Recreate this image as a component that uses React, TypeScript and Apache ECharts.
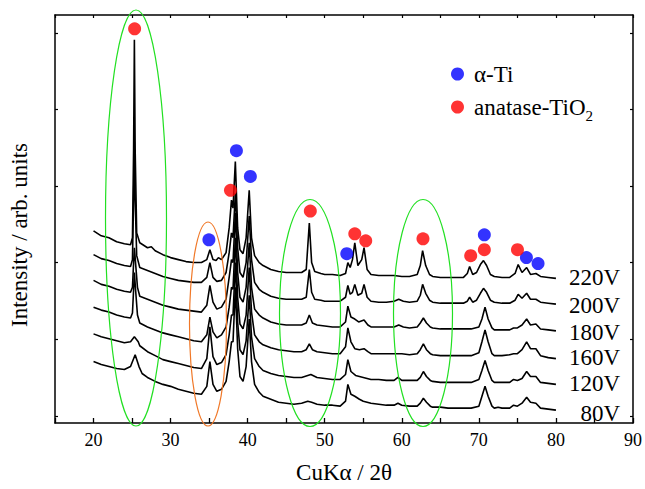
import React, { useEffect, useRef } from "react";
import * as echarts from "echarts";

// 2θ (deg) vs intensity (arb. units)
const s220: number[][] = [[20,267],[21,262],[22,260],[23,256],[24,254],[24.8,253],[25.05,260],[25.2,350],[25.3,460],[25.4,350],[25.6,265],[26,255],[27,250],[27.5,251],[28,247],[29,243],[30,240],[31,238],[32,236],[33,235],[34,235],[34.7,238],[35.1,248],[35.5,238],[35.9,237],[36.2,240],[36.6,238],[37.2,245],[37.6,270],[37.9,298],[38.1,290],[38.4,337],[38.7,270],[39.0,248],[39.4,244],[39.8,260],[40.2,308],[40.5,260],[40.9,242],[41.5,235],[42,232],[43,228],[44,226],[45,225],[46,225],[47,225],[47.6,228],[48.0,275],[48.3,235],[48.7,226],[49.5,224],[50,223],[51,223],[52,222],[52.7,224],[53.0,235],[53.3,230],[53.6,238],[53.9,255],[54.3,232],[54.8,238],[55.1,250],[55.5,228],[56,223],[57,222],[58,222],[59,222],[60,221],[61,221],[62,223],[62.4,232],[62.7,247],[63.1,232],[63.6,223],[64,221],[65,220],[66,220],[67,220],[68,220],[68.5,224],[68.8,231],[69.2,223],[69.7,225],[70.2,233],[70.6,237],[71.0,232],[71.5,223],[72,221],[73,220],[74,220],[74.7,224],[75.1,233],[75.6,225],[76.2,230],[76.7,223],[77.4,224],[78,221],[79,220],[80,219]];
const s200: number[][] = [[20,243],[21,239],[22,237],[23,234],[24,232],[24.8,231],[25.05,238],[25.2,300],[25.3,357],[25.4,300],[25.6,242],[26,230],[27,227],[28,224],[29,221],[30,219],[31,217],[32,216],[33,215],[34,215],[34.7,220],[35.1,235],[35.5,220],[36,216],[36.6,217],[37.2,225],[37.6,245],[37.9,265],[38.1,260],[38.4,305],[38.7,250],[39.0,225],[39.4,220],[39.8,235],[40.2,282],[40.5,238],[40.9,215],[41.5,208],[42,205],[43,201],[44,199],[45,198],[46,198],[47,198],[47.6,200],[48.0,228],[48.3,205],[48.7,198],[49.5,197],[50,196],[51,196],[52,196],[52.7,200],[53.0,212],[53.3,203],[53.6,205],[53.9,213],[54.3,202],[54.8,204],[55.1,213],[55.5,200],[56,196],[57,195],[58,195],[59,196],[59.6,198],[60.2,196],[61,195],[62,196],[62.4,202],[62.7,213],[63.1,204],[63.6,197],[64,195],[65,194],[66,194],[67,194],[68,194],[68.5,196],[68.8,200],[69.2,195],[69.7,197],[70.2,204],[70.6,209],[71.0,205],[71.5,197],[72,195],[73,194],[74,194],[74.7,197],[75.1,203],[75.6,199],[76.2,204],[76.7,198],[77.4,198],[78,195],[79,194],[80,193]];
const s180: number[][] = [[20,217],[21,213],[22,211],[23,208],[24,206],[24.8,205],[25.05,210],[25.2,235],[25.3,250],[25.45,235],[25.7,210],[26,201],[27,198],[28,195],[29,192],[30,190],[31,188],[32,187],[33,186],[34,185],[34.7,192],[35.1,212],[35.5,195],[36,188],[36.6,190],[37.2,198],[37.6,220],[37.9,238],[38.1,235],[38.4,285],[38.7,225],[39.0,200],[39.4,195],[39.8,210],[40.2,255],[40.5,210],[40.9,188],[41.5,182],[42,179],[43,175],[44,173],[45,172],[46,172],[47,172],[47.6,174],[48.0,182],[48.4,174],[49,172],[50,171],[51,170],[52,170],[52.7,175],[53.0,191],[53.4,180],[53.9,178],[54.4,175],[55.1,177],[55.6,172],[56,170],[57,170],[58,170],[59,170],[59.6,172],[60.2,170],[61,169],[62,170],[62.4,174],[62.8,179],[63.2,174],[63.7,170],[64,169],[65,168],[66,168],[67,168],[68,168],[69,168],[70,170],[70.4,178],[70.8,190],[71.2,178],[71.7,169],[72,167],[73,167],[74,167],[74.5,169],[75,169],[75.6,172],[76.2,178],[76.7,172],[77.4,173],[78,168],[79,167],[80,166]];
const s160: number[][] = [[20,190],[21,187],[22,185],[23,182],[24,180],[24.8,179],[25.05,184],[25.2,208],[25.3,225],[25.45,208],[25.7,182],[26,174],[27,170],[28,167],[29,164],[30,162],[31,160],[32,158],[33,156],[34,155],[34.7,162],[35.1,180],[35.5,165],[36,159],[36.6,162],[37.2,170],[37.6,190],[37.9,210],[38.1,208],[38.4,260],[38.7,200],[39.0,173],[39.4,168],[39.8,182],[40.2,230],[40.5,185],[40.9,162],[41.5,155],[42,152],[43,149],[44,147],[45,146],[46,145],[47,145],[47.6,147],[48.0,153],[48.4,147],[49,145],[50,144],[51,143],[52,143],[52.7,150],[53.0,169],[53.4,155],[53.9,148],[54.5,147],[55.1,148],[55.6,145],[56,143],[57,143],[58,143],[59,143],[60,143],[61,142],[62,143],[62.4,147],[62.8,153],[63.2,147],[63.7,143],[64,142],[65,141],[66,141],[67,141],[68,141],[69,141],[70,144],[70.4,155],[70.8,167],[71.2,155],[71.7,143],[72,141],[73,141],[74,142],[74.5,143],[75,143],[75.6,147],[76.2,155],[76.7,148],[77.4,148],[78,141],[79,139],[80,138]];
const s120: number[][] = [[20,163],[21,160],[22,158],[23,156],[24,154],[24.8,155],[25.3,160],[25.8,155],[26,151],[27,145],[28,141],[29,137],[30,135],[31,133],[32,131],[33,129],[34,128],[34.7,138],[35.1,170],[35.5,140],[36,132],[36.6,134],[37.2,142],[37.6,162],[37.9,182],[38.1,182],[38.4,235],[38.7,175],[39.0,147],[39.4,142],[39.8,156],[40.2,202],[40.5,160],[40.9,138],[41.5,130],[42,126],[43,123],[44,121],[45,120],[46,119],[47,119],[47.8,121],[48.2,122],[49,119],[50,118],[51,117],[52,117],[52.7,122],[53.0,137],[53.4,125],[54,121],[55,119],[56,117],[57,117],[58,116],[59,116],[59.5,119],[60,116],[61,116],[62,116],[62.4,119],[62.8,125],[63.2,120],[63.7,116],[64,115],[65,114],[66,114],[67,114],[68,114],[69,114],[70,117],[70.4,126],[70.8,136],[71.2,126],[71.7,116],[72,114],[73,114],[74,114],[74.5,117],[75,116],[75.6,118],[76.2,125],[76.7,120],[77.4,120],[78,114],[79,113],[80,112]];
const s80: number[][] = [[20,135],[21,132],[22,130],[23,128],[24,127],[24.8,130],[25.4,142],[25.9,130],[26.3,123],[27,119],[28,115],[29,112],[30,110],[31,107],[32,105],[33,103],[34,102],[34.7,110],[35.1,135],[35.5,112],[36,105],[36.6,107],[37.2,115],[37.6,135],[37.9,155],[38.1,155],[38.4,210],[38.7,148],[39.0,120],[39.4,115],[39.8,130],[40.2,178],[40.5,135],[40.9,112],[41.5,104],[42,100],[43,97],[44,94],[45,93],[46,92],[47,93],[47.8,95],[48.3,94],[49,92],[50,91],[51,91],[52,90],[52.7,95],[53.0,112],[53.4,102],[53.9,100],[54.5,97],[55,95],[56,93],[57,92],[58,91],[59,91],[59.5,93],[60,91],[61,90],[62,90],[62.4,93],[62.8,98],[63.2,94],[63.7,90],[64,89],[65,89],[66,88],[67,88],[68,88],[69,88],[70,90],[70.4,100],[70.8,110],[71.2,100],[71.7,90],[72,88],[72.5,89],[73,88],[74,88],[74.5,91],[75,90],[75.6,93],[76.2,99],[76.7,94],[77.4,93],[78,88],[79,87],[80,86]];

const seriesNames = ["220V", "200V", "180V", "160V", "120V", "80V"];
const seriesData = [s220, s200, s180, s160, s120, s80];

// Phase markers [2θ, intensity]
const alphaTi: number[][] = [[34.97,258],[38.54,348],[40.35,322],[52.86,244],[70.71,263],[76.17,240],[77.68,234]];
const anatase: number[][] = [[25.33,471],[37.77,308],[48.13,287],[53.9,264],[55.32,257],[62.75,259],[68.94,242],[70.71,248],[75.01,248]];

const xTickLabels = [20, 30, 40, 50, 60, 70, 80, 90];
const yTicks = [80, 157.5, 235, 312, 389.5, 467];

const FONT = "Liberation Serif, Times New Roman, serif";

export default function App() {
  const ref = useRef<HTMLDivElement>(null);
  useEffect(() => {
    document.body.style.margin = "0";
    if (!ref.current) return;
    const chart = echarts.init(ref.current, null, { renderer: "svg" });
    const lineSeries = seriesData.map((d, i) => ({
      name: seriesNames[i],
      type: "line",
      data: d,
      showSymbol: false,
      symbol: "none",
      lineStyle: { color: "#000", width: 1.6 },
      z: 2,
    }));
    const axisLine = { show: true, lineStyle: { color: "#000", width: 1.5 } };
    chart.setOption({
      animation: false,
      grid: { left: 55, right: 10, top: 15, bottom: 62 },
      legend: {
        data: ["α-Ti", "anatase-TiO2"],
        orient: "vertical",
        left: 451,
        top: 57.5,
        padding: 0,
        itemGap: 0,
        itemWidth: 23,
        itemHeight: 13,
        icon: "circle",
        formatter: (name: string) =>
          name === "anatase-TiO2" ? "anatase-TiO{s|2}" : name,
        textStyle: {
          fontFamily: FONT,
          fontSize: 23,
          color: "#000",
          lineHeight: 33,
          rich: {
            s: { fontFamily: FONT, fontSize: 15, color: "#000", lineHeight: 14, verticalAlign: "bottom" },
          },
        },
      },
      xAxis: [
        {
          type: "value",
          min: 15,
          max: 90,
          interval: 5,
          name: "CuKα / 2θ",
          nameLocation: "middle",
          nameGap: 38,
          nameTextStyle: { fontFamily: FONT, fontSize: 23, color: "#000" },
          axisLine,
          axisTick: { show: true, inside: true, length: 5, lineStyle: { color: "#000", width: 1.3 } },
          axisLabel: {
            margin: 8,
            fontFamily: FONT,
            fontSize: 18,
            color: "#000",
            formatter: (v: number) => (xTickLabels.includes(v) ? String(v) : ""),
          },
          splitLine: { show: false },
        },
        {
          type: "value",
          position: "top",
          min: 15,
          max: 90,
          interval: 5,
          axisLine,
          axisTick: { show: true, inside: true, length: 3, lineStyle: { color: "#000", width: 1.2 } },
          axisLabel: { show: false },
          splitLine: { show: false },
        },
      ],
      yAxis: [
        {
          type: "value",
          min: 73,
          max: 485,
          name: "Intensity / arb. units",
          nameLocation: "middle",
          nameGap: 24,
          nameTextStyle: { fontFamily: FONT, fontSize: 23, color: "#000", padding: [0, 32, 0, 0] },
          axisLine,
          axisTick: { show: true, inside: true, length: 3, customValues: yTicks, lineStyle: { color: "#000", width: 1.2 } },
          axisLabel: { show: false },
          splitLine: { show: false },
        },
        {
          type: "value",
          position: "right",
          min: 73,
          max: 485,
          axisLine,
          axisTick: { show: true, inside: true, length: 3, customValues: yTicks, lineStyle: { color: "#000", width: 1.2 } },
          axisLabel: { show: false },
          splitLine: { show: false },
        },
      ],
      series: [
        ...lineSeries,
        {
          name: "α-Ti",
          type: "scatter",
          data: alphaTi,
          symbol: "circle",
          symbolSize: 13,
          itemStyle: { color: "#0000ff" },
          z: 5,
        },
        {
          name: "anatase-TiO2",
          type: "scatter",
          data: anatase,
          symbol: "circle",
          symbolSize: 13,
          itemStyle: { color: "#ff0000" },
          z: 5,
        },
      ],
      graphic: [
        { type: "ellipse", z: 10, shape: { cx: 136, cy: 218, rx: 30.5, ry: 208 }, style: { fill: "none", stroke: "#22e022", lineWidth: 1.2 } },
        { type: "ellipse", z: 10, shape: { cx: 208, cy: 324, rx: 18.5, ry: 102 }, style: { fill: "none", stroke: "#f07828", lineWidth: 1.2 } },
        { type: "ellipse", z: 10, shape: { cx: 310, cy: 313, rx: 30.5, ry: 113.5 }, style: { fill: "none", stroke: "#22e022", lineWidth: 1.2 } },
        { type: "ellipse", z: 10, shape: { cx: 423, cy: 313, rx: 29.5, ry: 113.5 }, style: { fill: "none", stroke: "#22e022", lineWidth: 1.2 } },
        ...seriesNames.map((n, i) => ({
          type: "text",
          z: 10,
          x: 620,
          y: [277, 305, 332, 357, 383, 413][i],
          style: {
            text: n,
            fontFamily: FONT,
            fontSize: 23,
            fill: "#000",
            align: "right",
            verticalAlign: "middle",
          },
        })),
      ],
    });
    return () => chart.dispose();
  }, []);
  return <div ref={ref} style={{ width: 645, height: 489 }} />;
}
